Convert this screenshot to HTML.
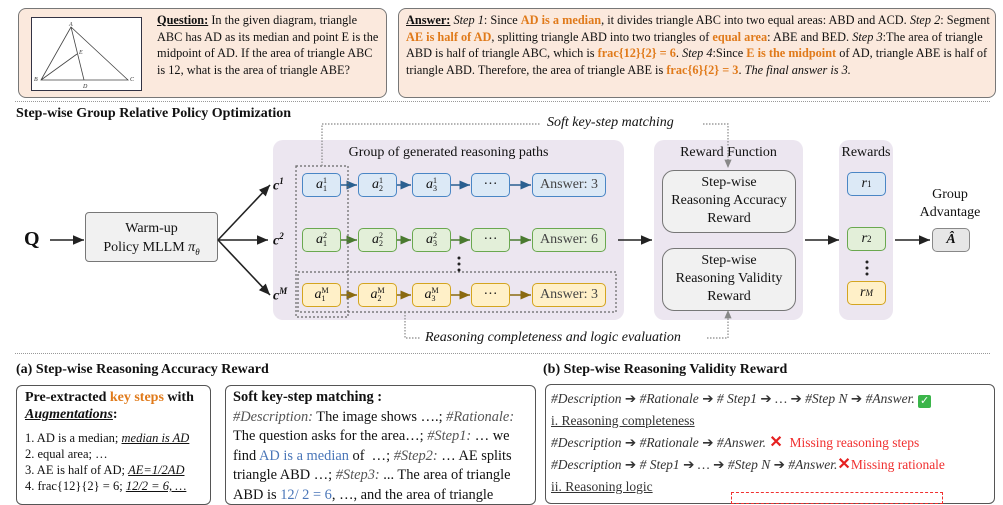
<!DOCTYPE html>
<html><head><meta charset="utf-8"><style>
body{margin:0;width:1003px;height:496px;overflow:hidden;background:#fff;font-family:"Liberation Serif",serif;color:#111;position:relative}
.a{position:absolute}
.tb{position:absolute;background:#fbe9dd;border:1.5px solid #777;border-radius:8px}
.txt{font-size:12.3px;line-height:16.5px}
.o{color:#e07a1a;font-weight:bold}
.hl{position:absolute;border-top:1.5px dotted #999}
.panel{position:absolute;background:#ece6f0;border-radius:10px}
.n{position:absolute;height:24px;border:1.5px solid;border-radius:5px;box-sizing:border-box;display:flex;align-items:center;justify-content:center;font-size:14px}
.b{background:#dce9f6;border-color:#4a86c5}
.g{background:#e3efd9;border-color:#6aa84f}
.y{background:#fff0c8;border-color:#d4a520}
.rb{position:absolute;background:#f1f1f1;border:1.5px solid #777;border-radius:12px;box-sizing:border-box;text-align:center;font-size:14px;line-height:18px}
.bx{position:absolute;border:1.5px solid #555;border-radius:6px;box-sizing:border-box}
i{font-style:italic}
.ss{font-size:8px;display:inline-flex;flex-direction:column;line-height:8px}
</style></head><body>
<div class="tb" style="left:18px;top:8px;width:367px;height:88px"></div>
<div class="a" style="left:31px;top:17px;width:109px;height:72px;background:#fff;border:1px solid #334"></div>
<svg class="a" style="left:31px;top:17px" width="110" height="73"><g stroke="#444" fill="none" stroke-width="0.8"><path d="M40 10 L10 63 L97 63 Z M40 10 L53 63 M10 63 L46 37"/></g>
<g font-size="6" font-style="italic" fill="#333"><text x="38" y="9">A</text><text x="3" y="64">B</text><text x="99" y="64">C</text><text x="52" y="71">D</text><text x="48" y="37">E</text></g></svg>
<div class="a txt" style="left:157px;top:12px;width:226px"><b><u>Question:</u></b> In the given diagram, triangle ABC has AD as its median and point E is the midpoint of AD. If the area of triangle ABC is 12, what is the area of triangle ABE?</div>
<div class="tb" style="left:398px;top:8px;width:596px;height:88px"></div>
<div class="a txt" style="left:406px;top:12px;width:586px"><b><u>Answer:</u></b> <i>Step 1</i>: Since <span class="o">AD is a median</span>, it divides triangle ABC into two equal areas: ABD and ACD. <i>Step 2</i>: Segment <span class="o">AE is half of AD</span>, splitting triangle ABD into two triangles of <span class="o">equal area</span>: ABE and BED. <i>Step 3</i>:The area of triangle ABD is half of triangle ABC, which is <span class="o">frac{12}{2} = 6</span>. <i>Step 4</i>:Since <span class="o">E is the midpoint</span> of AD, triangle ABE is half of triangle ABD. Therefore, the area of triangle ABE is <span class="o">frac{6}{2} = 3</span>. <i>The final answer is 3.</i></div>
<div class="hl" style="left:15px;top:101px;width:975px"></div>
<div class="a" style="left:16px;top:106px;font-size:14px;font-weight:bold">Step-wise Group Relative Policy Optimization</div>

<div class="panel" style="left:273px;top:140px;width:351px;height:180px"></div>
<div class="a" style="left:273px;top:145px;width:351px;text-align:center;font-size:14px">Group of generated reasoning paths</div>
<div class="panel" style="left:654px;top:140px;width:149px;height:180px"></div>
<div class="a" style="left:654px;top:145px;width:149px;text-align:center;font-size:14px">Reward Function</div>
<div class="panel" style="left:839px;top:140px;width:54px;height:180px"></div>
<div class="a" style="left:839px;top:145px;width:54px;text-align:center;font-size:14px">Rewards</div>

<div class="a" style="left:24px;top:228px;font-size:20px;font-weight:bold">Q</div>
<div class="rb" style="left:85px;top:212px;width:133px;height:50px;border-radius:4px;padding-top:6px;line-height:19px">Warm-up<br>Policy MLLM <i>π<sub style="font-size:9px">θ</sub></i></div>

<svg class="a" style="left:0;top:0" width="1003" height="496">
<defs><marker id="ar" markerWidth="8" markerHeight="8" refX="7" refY="4" orient="auto"><path d="M0 1 L7 4 L0 7z" fill="#222"/></marker>
<marker id="ag" markerWidth="8" markerHeight="8" refX="7" refY="4" orient="auto"><path d="M0 1 L7 4 L0 7z" fill="#888"/></marker>
<marker id="mb" markerWidth="8" markerHeight="8" refX="7" refY="4" orient="auto"><path d="M0 1 L7 4 L0 7z" fill="#2a5f90"/></marker>
<marker id="mg" markerWidth="8" markerHeight="8" refX="7" refY="4" orient="auto"><path d="M0 1 L7 4 L0 7z" fill="#4a7a30"/></marker>
<marker id="my" markerWidth="8" markerHeight="8" refX="7" refY="4" orient="auto"><path d="M0 1 L7 4 L0 7z" fill="#8a6a10"/></marker></defs>
<g stroke="#222" stroke-width="1.6" fill="none" marker-end="url(#ar)">
<line x1="50" y1="240" x2="84" y2="240"/><line x1="218" y1="240" x2="270" y2="185"/><line x1="218" y1="240" x2="268" y2="240"/><line x1="218" y1="240" x2="270" y2="295"/>
<line x1="618" y1="240" x2="652" y2="240"/><line x1="805" y1="240" x2="839" y2="240"/><line x1="895" y1="240" x2="930" y2="240"/></g>
<g stroke-width="1.5" fill="none">
<g stroke="#2a5f90" marker-end="url(#mb)"><line x1="341" y1="185" x2="357" y2="185"/><line x1="397" y1="185" x2="411" y2="185"/><line x1="451" y1="185" x2="470" y2="185"/><line x1="510" y1="185" x2="531" y2="185"/></g>
<g stroke="#4a7a30" marker-end="url(#mg)"><line x1="341" y1="240" x2="357" y2="240"/><line x1="397" y1="240" x2="411" y2="240"/><line x1="451" y1="240" x2="470" y2="240"/><line x1="510" y1="240" x2="531" y2="240"/></g>
<g stroke="#8a6a10" marker-end="url(#my)"><line x1="341" y1="295" x2="357" y2="295"/><line x1="397" y1="295" x2="411" y2="295"/><line x1="451" y1="295" x2="470" y2="295"/><line x1="510" y1="295" x2="531" y2="295"/></g></g>
<g stroke="#666" stroke-width="1.2" stroke-dasharray="2,2" fill="none">
<rect x="296" y="166" width="52" height="151"/><rect x="298" y="272" width="318" height="40"/></g>
<g stroke="#888" stroke-width="1.2" stroke-dasharray="1.5,1.5" fill="none">
<path d="M322 166 V124 H540"/><path d="M703 124 H728 V168" marker-end="url(#ag)"/>
<path d="M405 312 V338 H420"/><path d="M707 338 H728 V310" marker-end="url(#ag)"/></g>
<g fill="#222"><circle cx="459" cy="258" r="1.5"/><circle cx="459" cy="264" r="1.5"/><circle cx="459" cy="270" r="1.5"/>
<circle cx="867" cy="262" r="1.5"/><circle cx="867" cy="268" r="1.5"/><circle cx="867" cy="274" r="1.5"/></g>
</svg>
<div class="a" style="left:273px;top:176px;font-size:14px;font-weight:bold;font-style:italic">c<sup style="font-size:9px">1</sup></div>
<div class="a" style="left:273px;top:231px;font-size:14px;font-weight:bold;font-style:italic">c<sup style="font-size:9px">2</sup></div>
<div class="a" style="left:273px;top:286px;font-size:14px;font-weight:bold;font-style:italic">c<sup style="font-size:9px">M</sup></div>

<div class="n b" style="left:302px;top:173px;width:39px"><i>a</i><span class="ss"><span>1</span><span>1</span></span></div>
<div class="n b" style="left:358px;top:173px;width:39px"><i>a</i><span class="ss"><span>1</span><span>2</span></span></div>
<div class="n b" style="left:412px;top:173px;width:39px"><i>a</i><span class="ss"><span>1</span><span>3</span></span></div>
<div class="n b" style="left:471px;top:173px;width:39px">···</div>
<div class="n b" style="left:532px;top:173px;width:74px;color:#444">Answer: 3</div>
<div class="n g" style="left:302px;top:228px;width:39px"><i>a</i><span class="ss"><span>2</span><span>1</span></span></div>
<div class="n g" style="left:358px;top:228px;width:39px"><i>a</i><span class="ss"><span>2</span><span>2</span></span></div>
<div class="n g" style="left:412px;top:228px;width:39px"><i>a</i><span class="ss"><span>2</span><span>3</span></span></div>
<div class="n g" style="left:471px;top:228px;width:39px">···</div>
<div class="n g" style="left:532px;top:228px;width:74px;color:#444">Answer: 6</div>
<div class="n y" style="left:302px;top:283px;width:39px"><i>a</i><span class="ss"><span>M</span><span>1</span></span></div>
<div class="n y" style="left:358px;top:283px;width:39px"><i>a</i><span class="ss"><span>M</span><span>2</span></span></div>
<div class="n y" style="left:412px;top:283px;width:39px"><i>a</i><span class="ss"><span>M</span><span>3</span></span></div>
<div class="n y" style="left:471px;top:283px;width:39px">···</div>
<div class="n y" style="left:532px;top:283px;width:74px;color:#444">Answer: 3</div>

<div class="rb" style="left:662px;top:170px;width:134px;height:63px;padding-top:3px">Step-wise<br>Reasoning Accuracy<br>Reward</div>
<div class="rb" style="left:662px;top:248px;width:134px;height:63px;padding-top:3px">Step-wise<br>Reasoning Validity<br>Reward</div>

<div class="n b" style="left:847px;top:172px;width:39px"><i>r</i><sup style="font-size:9px">1</sup></div>
<div class="n g" style="left:847px;top:227px;width:39px"><i>r</i><sup style="font-size:9px">2</sup></div>
<div class="n y" style="left:847px;top:281px;width:39px"><i>r</i><sup style="font-size:9px"><i>M</i></sup></div>
<div class="a" style="left:910px;top:186px;width:80px;text-align:center;font-size:14px;line-height:18px">Group<br>Advantage</div>
<div class="n" style="left:932px;top:228px;width:38px;background:#e6e6e6;border-color:#888"><i><b>Â</b></i></div>

<div class="a" style="left:547px;top:115px;font-size:14px;font-style:italic">Soft key-step matching</div>
<div class="a" style="left:425px;top:330px;font-size:14px;font-style:italic">Reasoning completeness and logic evaluation</div>
<div class="hl" style="left:15px;top:353px;width:975px"></div>

<div class="a" style="left:16px;top:362px;font-size:14px;font-weight:bold">(a) Step-wise Reasoning Accuracy Reward</div>
<div class="bx" style="left:16px;top:385px;width:195px;height:120px"></div>
<div class="a" style="left:25px;top:389px;font-size:14px;font-weight:bold;line-height:17px">Pre-extracted <span style="color:#e07a1a">key steps</span> with<br><i><u>Augmentations</u></i>:</div>
<div class="a" style="left:25px;top:430px;font-size:12.5px;line-height:16px">1. AD is a median; <i><u>median is AD</u></i><br>2. equal area; …<br>3. AE is half of AD; <i><u>AE=1/2AD</u></i><br>4. frac{12}{2} = 6; <i><u>12/2 = 6, …</u></i></div>
<div class="bx" style="left:225px;top:385px;width:311px;height:120px"></div>
<div class="a" style="left:233px;top:388px;width:302px;font-size:14.4px;line-height:19.5px"><b>Soft key-step matching :</b><br><i style="color:#555">#Description:</i> The image shows ….; <i style="color:#555">#Rationale:</i> The question asks for the area…; <i style="color:#555">#Step1:</i> … we find <span style="color:#4a76b8">AD is a median</span> of &nbsp;…; <i style="color:#555">#Step2:</i> … AE splits triangle ABD …; <i style="color:#555">#Step3:</i> ... The area of triangle ABD is <span style="color:#4a76b8">12/ 2 = 6</span>, …, and the area of triangle</div>

<div class="a" style="left:543px;top:362px;font-size:14px;font-weight:bold">(b) Step-wise Reasoning Validity Reward</div>
<div class="bx" style="left:545px;top:384px;width:450px;height:120px"></div>
<div class="a" style="left:551px;top:388px;font-size:13.5px;line-height:22px;color:#333;white-space:nowrap"><i>#Description</i> ➔ <i>#Rationale</i> ➔ <i># Step1</i> ➔ <i>…</i> ➔ <i>#Step N</i> ➔ <i>#Answer.</i> <span style="display:inline-block;width:13px;height:13px;background:#3bb54a;color:#fff;font-size:11px;line-height:13px;text-align:center;border-radius:2px;vertical-align:-1px">✓</span><br>
<u>i. Reasoning completeness</u><br>
<i>#Description</i> ➔ <i>#Rationale</i> ➔ <i>#Answer.</i> <span style="color:#e52020;font-weight:bold;font-size:16px">✕</span> &nbsp;<span style="color:#f03030">Missing reasoning steps</span><br>
<i>#Description</i> ➔ <i># Step1</i> ➔ <i>…</i> ➔ <i>#Step N</i> ➔ <i>#Answer.</i><span style="color:#e52020;font-weight:bold;font-size:16px">✕</span><span style="color:#f03030">Missing rationale</span><br>
<u>ii. Reasoning logic</u></div>
<div class="a" style="left:731px;top:492px;width:210px;height:10px;border:1.5px dashed #f03030"></div>
</body></html>
